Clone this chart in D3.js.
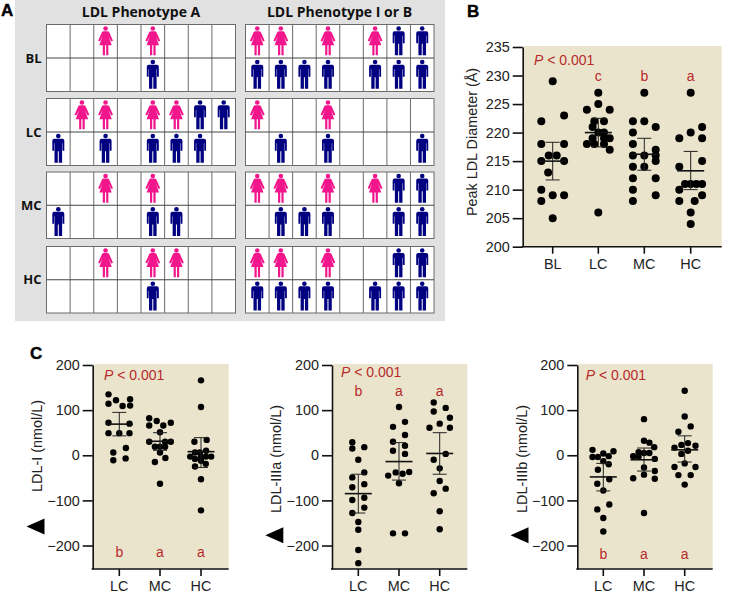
<!DOCTYPE html>
<html>
<head>
<meta charset="utf-8">
<script src="https://cdn.jsdelivr.net/npm/d3@7"></script>
<style>
  html, body { margin: 0; padding: 0; background: #fff; }
  svg { display: block; }
  text { font-family: "Liberation Sans", Arial, sans-serif; fill: #222; }
  .panel-a text { font-family: "Open Sans", sans-serif; font-weight: 700; fill: #111; }
  text.letter { font-family: "Liberation Sans", Arial, sans-serif; font-weight: 700; font-size: 17px; fill: #000; stroke: #000; stroke-width: 0.4px; }
  text.red { fill: #b72a2a; font-size: 14px; }
  .axis path, .axis line { stroke: #111; stroke-width: 1.6px; }
  .axis text { font-size: 14.4px; fill: #222; font-family: "Liberation Sans", Arial, sans-serif; }
</style>
</head>
<body>
<svg id="chart" width="734" height="594"></svg>
<script>
// DATA

// panel A: one string per row, F = woman, M = man, . = empty cell
const groupsA = ['BL', 'LC', 'MC', 'HC'];
const phenotypeA = [
  ['..F.F...', '....M...'],
  ['.FF.FFMM', 'M.M.MMM.'],
  ['..F.F...', 'M...MM..'],
  ['..F.FF..', '....M...']
];
const phenotypeB = [
  ['FF.F.FMM', 'MMMM.MMM'],
  ['F..F....', '.M.M...M'],
  ['FF.F.FMM', '.MMM..MM'],
  ['FF.F..MM', 'MMMM.MMM']
];

// panel B: peak LDL diameter
const bCategories = ['BL', 'LC', 'MC', 'HC'];
const bTicks = [200, 205, 210, 215, 220, 225, 230, 235];
const bLetters = ['', 'c', 'b', 'a'];
const bBlValues = [229, 223, 222, 218, 218, 216, 216, 215, 215, 213, 210, 209, 209, 208, 205];
const bBlJitter = [0, 1, -1, -1, 1, -0.35, 0.35, -1, 1, -0.4, -1, 0, 1, -1, 0];
const bLcValues = [227, 225, 224, 224, 222, 222, 221, 220, 220, 219, 219, 219, 218, 218, 218, 217, 206];
const bLcJitter = [0, 0, -1, 1, -0.35, 0.5, -0.5, 0, 0.5, -0.5, 0.5, 1, -1, -0.35, 0.5, 1, 0];
const bMcValues = [227, 222, 222, 221, 220, 218, 217, 216, 216, 216, 215, 214, 214, 212, 212, 210, 209, 208];
const bMcJitter = [0, -1, 0, 1, -1, -1, 1, -1, 0, 1, 1, -1, 0, -1, 1, -1, 1, -1];
const bHcValues = [227, 221, 220, 219, 219, 215, 214, 211, 211, 211, 211, 210, 209, 208, 208, 206, 204];
const bHcJitter = [0, 1, 0, -1, 1, 1, -1, -0.5, 0, 0.5, 1, -1, 1, -1, 0.35, 0, 0];
const bMeans = [215, 220, 216.2, 213.3];
const bUpper = [218.3, 222.5, 219, 216.7];
const bLower = [211.7, 217.5, 213.4, 210];

// panel C: shared axis
const cCategories = ['LC', 'MC', 'HC'];
const cTicks = [-200, -100, 0, 100, 200];
const cLetters = ['b', 'a', 'a'];

// LDL-I
const c1LcValues = [135, 122, 124, 114, 109, 110, 72, 70, 49, 49, 49, 16, 6, -11, -7];
const c1LcJitter = [-1.8, -0.55, 1.8, -1.8, 0.55, 1.8, -1.8, 1.7, -1.8, 0, 1.7, 1.1, -1, -1, 1.05];
const c1McValues = [82, 76, 66, 66, 72, 51, 30, 30, 30, 19, 19, 19, 6, -6, -15, -63];
const c1McJitter = [-1.8, -0.55, -1.8, 0.55, 1.8, 0, -1.8, 0.85, 1.8, -0.85, 0, 0.85, 0, 0.9, -0.85, 0];
const c1HcValues = [166, 107, 34, 30, 10, 6, 6, -3, -3, -3, -3, -8, -12, -19, -25, -53, -122];
const c1HcJitter = [0, 0, 0.95, -1.1, 0.85, -1, -0.2, -1.8, 0, 0.85, 1.7, -1, 0, 0.8, -1, 0, 0];
const c1Means = [69, 31, 8];
const c1Upper = [95, 50, 39];
const c1Lower = [43, 11, -27];

// LDL-IIIa
const c2LcValues = [29, 15, 18, -10, -38, -49, -64, -71, -99, -94, -116, -128, -148, -165, -210, -239];
const c2LcJitter = [-1, -1, 1, 0, 1, -1, 1, -1, -1, 1, 1, -1, 0, 0, 0, 0];
const c2McValues = [107, 74, 63, 45, 30, 21, 10, 3, -37, -38, -41, -45, -62, -173, -173];
const c2McJitter = [0, 1, -1, 1, -1, 1, -1, 1, 1.7, -0.55, 0.6, -1.8, 0, -1, 1];
const c2HcValues = [117, 105, 97, 83, 70, 61, 61, 3, -10, -29, -57, -74, -84, -124, -164];
const c2HcJitter = [-1, 1, -1, 1.7, 0, -1.7, 1.7, 1, -1, 0, 0, 1, -1, 0, 0];
const c2Means = [-85, -14, 4];
const c2Upper = [-42, 28, 50];
const c2Lower = [-128, -55, -42];

// LDL-IIIb
const c3LcValues = [12, 9, 4, -4, -4, -2, -13, -20, -32, -53, -63, -78, -109, -120, -139, -169];
const c3LcJitter = [-1.8, 1.7, 0, -1.8, -0.9, 0.9, 0, 0.9, -0.9, 1, -1, 0, 1, -1, 0, 0];
const c3McValues = [80, 32, 28, 18, 7, 5, 5, -2, -3, -8, -27, -35, -43, -51, -52, -128];
const c3McJitter = [0, 0, 0.9, 1.7, -0.9, 0, 0.9, -1.8, -0.9, 1.8, 0, 1.8, 0, -1.8, 1.8, 0];
const c3HcValues = [143, 86, 64, 52, 27, 23, 21, 17, 10, 3, -18, -26, -26, -44, -44, -65];
const c3HcJitter = [0, 0, 1, -1.05, 0.55, -0.55, 1.8, -1.7, 0.55, -0.55, 0, -1.7, 1.8, -1.05, 1, 0];
const c3Means = [-48, -10, 12];
const c3Upper = [-18, 16, 43];
const c3Lower = [-79, -35, -15];

// SETUP

const svg = d3.select('#chart');
const tan = '#ebe4cd';

const womanPath = 'M-1.6,-9.6 L1.6,-9.6 Q3.2,-9.6 3.8,-8.2 L7.4,0 L5.6,0.8 L3,-4.6 L6.2,4.4 L2.8,4.4 L2.8,14.6 L0.6,14.6 L0.6,4.4 L-0.6,4.4 L-0.6,14.6 L-2.8,14.6 L-2.8,4.4 L-6.2,4.4 L-3,-4.6 L-5.6,0.8 L-7.4,0 L-3.8,-8.2 Q-3.2,-9.6 -1.6,-9.6 Z';
const manPath = 'M-4,-9.6 L4,-9.6 Q6,-9.6 6,-7.6 L6,2.4 L4.2,2.4 L4.2,-5 L3.8,-5 L3.8,14.6 L0.5,14.6 L0.5,3 L-0.5,3 L-0.5,14.6 L-3.8,14.6 L-3.8,-5 L-4.2,-5 L-4.2,2.4 L-6,2.4 L-6,-7.6 Q-6,-9.6 -4,-9.6 Z';

/**
 * Draw one 8 x 2 grid of people
 */
function drawGrid(g, rows, x0, x1, y0, y1) {
  var x = d3.scaleBand().domain(d3.range(8)).range([x0, x1]);
  var y = d3.scaleBand().domain(d3.range(2)).range([y0, y1]);

  g.append('rect')
    .attr('x', x0).attr('y', y0)
    .attr('width', x1 - x0).attr('height', y1 - y0)
    .attr('fill', '#fff')
    .attr('stroke', '#6b6b6b')
    .attr('stroke-width', 1);

  g.selectAll(null)
    .data(d3.range(1, 8))
    .enter()
    .append('line')
    .attr('x1', function (d) { return x(d); })
    .attr('x2', function (d) { return x(d); })
    .attr('y1', y0).attr('y2', y1)
    .attr('stroke', '#6b6b6b');

  g.append('line')
    .attr('x1', x0).attr('x2', x1)
    .attr('y1', y(1)).attr('y2', y(1))
    .attr('stroke', '#444');

  rows.forEach(function (row, r) {
    row.split('').forEach(function (kind, c) {
      if (kind === '.') { return; }
      var person = g.append('g')
        .attr('transform', 'translate(' + (x(c) + x.bandwidth() / 2) + ',' + (y(r) + y.bandwidth() / 2 - 0.5) + ')')
        .attr('fill', kind === 'F' ? '#f2158c' : '#000080');
      person.append('circle')
        .attr('cy', -12.2)
        .attr('r', 2.3);
      person.append('path')
        .attr('d', kind === 'F' ? womanPath : manPath);
    });
  });
}

/**
 * Draw a dot plot panel with axes, dots, mean and error bars
 */
function drawDotPanel(options) {
  var g = svg.append('g');

  var y = d3.scaleLinear().domain(options.yDomain).range(options.yRange);
  var x = d3.scaleOrdinal().domain(options.categories).range(options.xCenters);
  var jitter = d3.scaleLinear().domain([-1, 1]).range([-options.jitterWidth, options.jitterWidth]);

  g.append('rect')
    .attr('x', options.left)
    .attr('y', y(options.yDomain[1]) - 1)
    .attr('width', options.right - options.left)
    .attr('height', y(options.yDomain[0]) - y(options.yDomain[1]) + 1)
    .attr('fill', tan);

  // y axis
  g.append('g')
    .attr('class', 'axis')
    .attr('transform', 'translate(' + options.left + ',0)')
    .call(d3.axisLeft(y).tickValues(options.ticks).tickSize(10).tickSizeOuter(0).tickPadding(3));

  // x axis
  var xAxis = g.append('g')
    .attr('class', 'axis')
    .attr('transform', 'translate(0,' + options.yRange[0] + ')');
  xAxis.append('line')
    .attr('x1', options.left - 1).attr('x2', options.right);
  xAxis.selectAll('line.tick')
    .data(options.categories)
    .enter()
    .append('line')
    .attr('class', 'tick')
    .attr('x1', x).attr('x2', x)
    .attr('y1', 0).attr('y2', 7);
  xAxis.selectAll('text')
    .data(options.categories)
    .enter()
    .append('text')
    .attr('x', x)
    .attr('y', options.xLabelOffset)
    .attr('text-anchor', 'middle')
    .text(function (d) { return d; });

  // y axis title
  g.append('text')
    .attr('transform', 'translate(' + options.titleX + ',' + options.titleY + ') rotate(-90)')
    .attr('text-anchor', 'middle')
    .style('font-size', options.titleSize + 'px')
    .text(options.title);

  // dots, then mean and error bars on top
  options.categories.forEach(function (cat, i) {
    var values = options.values[i];
    var jit = options.jitter[i];

    g.selectAll(null)
      .data(values)
      .enter()
      .append('circle')
      .attr('cx', function (d, j) { return x(cat) + jitter(jit[j]); })
      .attr('cy', function (d) { return y(d); })
      .attr('r', options.dotRadius)
      .attr('fill', '#000');

    var bars = g.append('g').attr('stroke', '#222');
    bars.append('line')
      .attr('x1', x(cat)).attr('x2', x(cat))
      .attr('y1', y(options.upper[i])).attr('y2', y(options.lower[i]))
      .attr('stroke-width', 1);
    [options.upper[i], options.lower[i]].forEach(function (v) {
      bars.append('line')
        .attr('x1', x(cat) - 7).attr('x2', x(cat) + 7)
        .attr('y1', y(v)).attr('y2', y(v))
        .attr('stroke-width', 1);
    });
    bars.append('line')
      .attr('x1', x(cat) - 13.5).attr('x2', x(cat) + 13.5)
      .attr('y1', y(options.means[i])).attr('y2', y(options.means[i]))
      .attr('stroke-width', 1.6)
      .attr('stroke', '#111');
  });

  // P value
  var pText = g.append('text')
    .attr('class', 'red')
    .attr('x', options.pX)
    .attr('y', options.pY);
  pText.append('tspan').style('font-style', 'italic').text('P');
  pText.append('tspan').text(' < 0.001');

  // significance letters
  g.selectAll(null)
    .data(options.letters)
    .enter()
    .append('text')
    .attr('class', 'red')
    .attr('x', function (d, i) { return options.xCenters[i]; })
    .attr('y', options.letterY)
    .attr('text-anchor', 'middle')
    .text(function (d) { return d; });

  // direction marker
  if (options.markerX) {
    g.append('path')
      .attr('transform', 'translate(' + options.markerX + ',' + y(options.markerValue) + ')')
      .attr('d', 'M-9,0 L9,-8 L9,8 Z')
      .attr('fill', '#000');
  }
}

// PANEL A

var panelA = svg.append('g').attr('class', 'panel-a');

panelA.append('rect')
  .attr('x', 15).attr('y', 0)
  .attr('width', 430).attr('height', 321)
  .attr('fill', '#e1e1e1');

[[24.5, 91.5], [98.5, 165.5], [172, 238.5], [246.5, 313]].forEach(function (span, i) {
  drawGrid(panelA.append('g'), phenotypeA[i], 46.5, 235.5, span[0], span[1]);
  drawGrid(panelA.append('g'), phenotypeB[i], 245.5, 434, span[0], span[1]);

  panelA.append('text')
    .attr('x', 41.5)
    .attr('y', (span[0] + span[1]) / 2 + 4.5)
    .attr('text-anchor', 'end')
    .style('font-size', '13px')
    .text(groupsA[i]);
});

panelA.append('text')
  .attr('x', 141).attr('y', 17)
  .attr('text-anchor', 'middle')
  .style('font-size', '14px')
  .text('LDL Phenotype A');

panelA.append('text')
  .attr('x', 339.5).attr('y', 17)
  .attr('text-anchor', 'middle')
  .style('font-size', '14px')
  .text('LDL Phenotype I or B');

// PANEL B

drawDotPanel({
  categories: bCategories,
  ticks: bTicks,
  letters: bLetters,
  yDomain: [200, 235],
  yRange: [246.7, 47],
  left: 522.7,
  right: 721.7,
  xCenters: [552.7, 598.3, 644.3, 690.7],
  jitterWidth: 11.4,
  dotRadius: 4,
  values: [bBlValues, bLcValues, bMcValues, bHcValues],
  jitter: [bBlJitter, bLcJitter, bMcJitter, bHcJitter],
  means: bMeans,
  upper: bUpper,
  lower: bLower,
  title: 'Peak LDL Diameter (Å)',
  titleX: 477,
  titleY: 142,
  titleSize: 14.4,
  xLabelOffset: 22,
  pX: 534,
  pY: 65,
  letterY: 81
});

// PANEL C

var cShared = {
  categories: cCategories,
  ticks: cTicks,
  letters: cLetters,
  yDomain: [-252, 200],
  yRange: [569, 365],
  jitterWidth: 6,
  dotRadius: 3.2,
  titleSize: 14.4,
  xLabelOffset: 22,
  markerValue: -177
};

drawDotPanel(Object.assign({}, cShared, {
  left: 92.7,
  right: 228.7,
  xCenters: [119.3, 160, 201],
  values: [c1LcValues, c1McValues, c1HcValues],
  jitter: [c1LcJitter, c1McJitter, c1HcJitter],
  means: c1Means,
  upper: c1Upper,
  lower: c1Lower,
  title: 'LDL-I (nmol/L)',
  titleX: 42,
  titleY: 446,
  pX: 104,
  pY: 380,
  letterY: 557,
  markerX: 35.5,
  markerValue: -158
}));

drawDotPanel(Object.assign({}, cShared, {
  left: 332,
  right: 467.3,
  xCenters: [358.3, 399, 439.7],
  values: [c2LcValues, c2McValues, c2HcValues],
  jitter: [c2LcJitter, c2McJitter, c2HcJitter],
  means: c2Means,
  upper: c2Upper,
  lower: c2Lower,
  title: 'LDL-IIIa (nmol/L)',
  titleX: 281,
  titleY: 459,
  pX: 341,
  pY: 377,
  letterY: 396,
  markerX: 274.3
}));

drawDotPanel(Object.assign({}, cShared, {
  left: 577.3,
  right: 712.7,
  xCenters: [603.3, 644, 684.7],
  values: [c3LcValues, c3McValues, c3HcValues],
  jitter: [c3LcJitter, c3McJitter, c3HcJitter],
  means: c3Means,
  upper: c3Upper,
  lower: c3Lower,
  title: 'LDL-IIIb (nmol/L)',
  titleX: 527,
  titleY: 459,
  pX: 585.7,
  pY: 380,
  letterY: 559,
  markerX: 519.5
}));

// panel letters
[['A', 1, 16], ['B', 467, 17], ['C', 30, 359]].forEach(function (d) {
  svg.append('text')
    .attr('class', 'letter')
    .attr('x', d[1])
    .attr('y', d[2])
    .text(d[0]);
});
</script>
</body>
</html>
